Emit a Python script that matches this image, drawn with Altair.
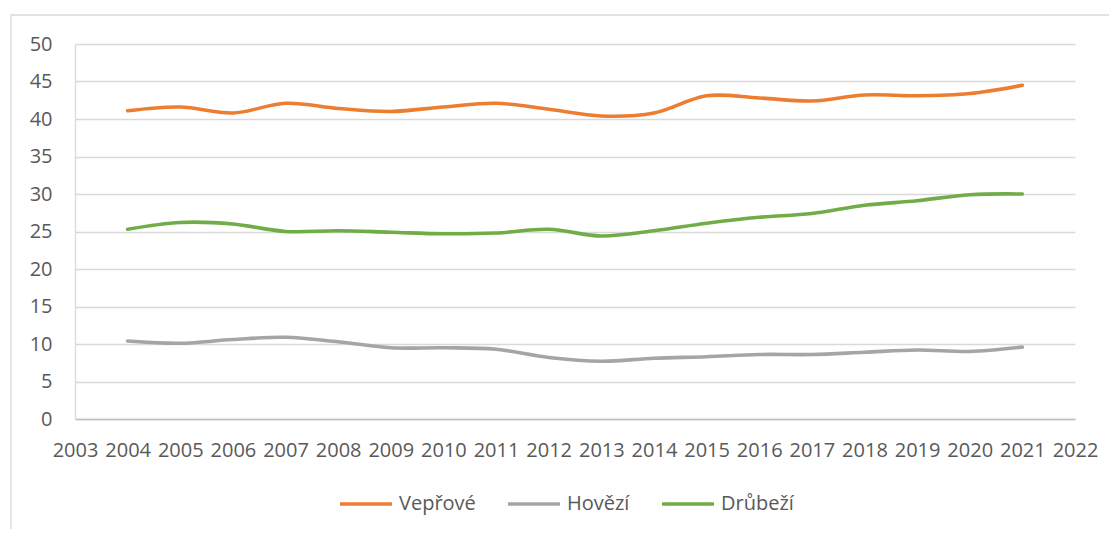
import altair as alt
import pandas as pd

years = list(range(2004, 2022))
series_names = ["Vepřové", "Hovězí", "Drůbeží"]
veprove = [41.1, 41.6, 40.8, 42.1, 41.4, 41.0, 41.6, 42.1, 41.3, 40.4, 40.8, 43.1, 42.8, 42.4, 43.2, 43.1, 43.4, 44.5]
hovezi = [10.4, 10.1, 10.6, 10.9, 10.3, 9.5, 9.5, 9.3, 8.2, 7.7, 8.1, 8.3, 8.6, 8.6, 8.9, 9.2, 9.0, 9.6]
drubezi = [25.3, 26.2, 26.0, 25.0, 25.1, 24.9, 24.7, 24.8, 25.3, 24.4, 25.1, 26.1, 26.9, 27.4, 28.5, 29.1, 29.9, 30.0]
colors = ["#ED7D31", "#A5A5A5", "#70AD47"]
x_ticks = list(range(2003, 2023))
y_ticks = list(range(0, 55, 5))

rows = []
for name, vals in zip(series_names, [veprove, hovezi, drubezi]):
    for yr, v in zip(years, vals):
        rows.append({"rok": yr, "hodnota": v, "druh": name})
df = pd.DataFrame(rows)

FONT = "Open Sans"
TXT = "#595959"

lines = alt.Chart(df).mark_line(
    interpolate="catmull-rom", strokeWidth=3.6, strokeCap="round"
).encode(
    x=alt.X("rok:Q",
            scale=alt.Scale(domain=[2003, 2022], nice=False, zero=False),
            axis=alt.Axis(values=x_ticks, format="d", title=None, grid=False,
                          ticks=False, tickSize=0, labelPadding=21,
                          domainColor="#bfbfbf", domainWidth=1.3,
                          labelFlush=False, labelOverlap=False)),
    y=alt.Y("hodnota:Q",
            scale=alt.Scale(domain=[0, 50], nice=False),
            axis=alt.Axis(values=y_ticks, title=None, grid=True,
                          gridColor="#d9d9d9", gridWidth=1.3,
                          ticks=False, tickSize=0, labelPadding=23,
                          domainColor="#d9d9d9", domainWidth=1.3)),
    color=alt.Color("druh:N",
                    scale=alt.Scale(domain=series_names, range=colors),
                    sort=series_names,
                    legend=alt.Legend(title=None, orient="none", legendX=263, legendY=432,
                                      direction="horizontal", symbolType="stroke",
                                      symbolSize=2700, symbolStrokeWidth=3.5,
                                      labelFont=FONT, labelFontSize=20, labelColor=TXT,
                                      columnPadding=25, labelOffset=5)),
)

border = alt.Chart(alt.Data(values=[{}])).mark_rect(
    fill=None, stroke="#d9d9d9", strokeWidth=1.3
).encode(
    x=alt.value(-64), x2=alt.value(1200), y=alt.value(-29), y2=alt.value(700)
)

chart = alt.layer(border, lines).properties(
    width=1000, height=375,
    padding={"left": 67, "top": 36, "right": 34, "bottom": 110},
    autosize=alt.AutoSizeParams(type="none"),
).configure_view(stroke=None).configure_axis(
    labelFont=FONT, labelFontSize=20, labelColor=TXT
)

chart.save("out.html", embed_options={"renderer": "svg", "actions": False})
